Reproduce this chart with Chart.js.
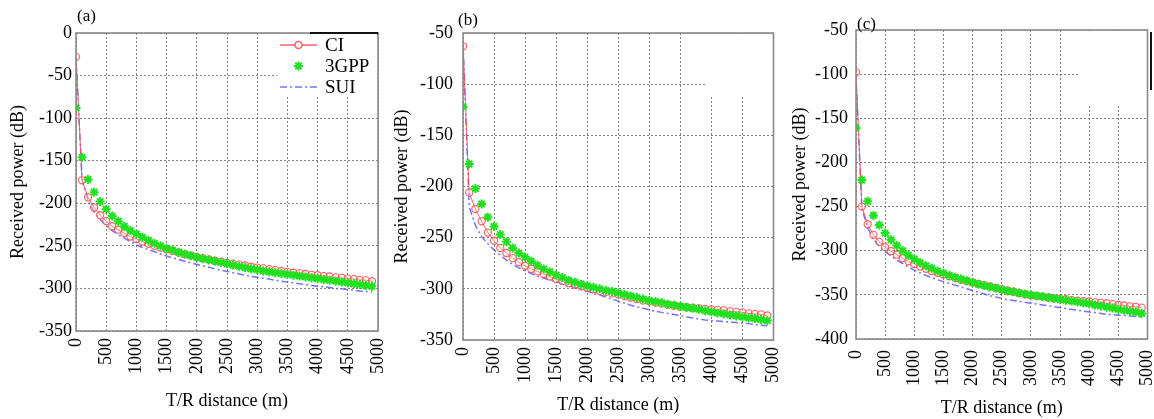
<!DOCTYPE html>
<html><head><meta charset="utf-8">
<script src="https://cdn.jsdelivr.net/npm/chart.js@4.4.1/dist/chart.umd.min.js"></script>
<style>
html,body{margin:0;padding:0;background:#fff;width:1154px;height:419px;overflow:hidden}
canvas{position:absolute;top:0}
</style></head><body>
<canvas id="ca" width="385" height="419" style="left:0px"></canvas>
<canvas id="cb" width="395" height="419" style="left:385px"></canvas>
<canvas id="cc" width="374" height="419" style="left:780px"></canvas>
<script>
// ---- data ----
const distance = [1,100,200,300,400,500,600,700,800,900,1000,1100,1200,1300,1400,1500,1600,1700,1800,1900,2000,
  2100,2200,2300,2400,2500,2600,2700,2800,2900,3000,3100,3200,3300,3400,3500,3600,3700,3800,3900,4000,
  4100,4200,4300,4400,4500,4600,4700,4800,4900];
const seriesNames = ['CI','3GPP','SUI'];
const panelLabels = ['(a)','(b)','(c)'];
const xTicks = [0,500,1000,1500,2000,2500,3000,3500,4000,4500,5000];
const yTicksA = [0,-50,-100,-150,-200,-250,-300,-350];
const yTicksB = [-50,-100,-150,-200,-250,-300,-350];
const yTicksC = [-50,-100,-150,-200,-250,-300,-350,-400];
const xTitle = 'T/R distance (m)';
const yTitle = 'Received power (dB)';

const ciA = [-28,-173,-193,-205,-214,-221,-227,-231,-235,-239,-242,
  -245,-247.5,-250,-252,-254,-256,-258,-260,-261.5,-263,
  -264.5,-266,-267.5,-268.5,-270,-271,-272,-273,-274.5,-275.5,
  -276.5,-277.5,-278.5,-279.5,-280.5,-281.5,-282,-283,-284,-284.5,
  -285.5,-286,-287,-287.5,-288.5,-289,-290,-290.5,-291.5];
const gppA = [-88,-146,-172,-187,-198,-207,-215,-221,-227,-232,-236,
  -240,-243.5,-247,-250,-253,-255,-257.5,-259.5,-261.5,-263.5,
  -265,-266.5,-268,-269.5,-271,-272.5,-274,-275.5,-277,-278,
  -279.5,-280.5,-281.5,-282.5,-283.5,-284.5,-285.5,-286.5,-287.5,-288.5,
  -289.5,-290.5,-291.5,-292.5,-293.5,-294.5,-295.5,-296.5,-297.5];
const suiA = [-30,-172,-197,-210,-219,-226,-232,-237,-241,-245,-249,
  -252,-254.5,-257,-259.5,-262,-264,-266,-268,-270,-272,
  -273.5,-275,-277,-278.5,-280,-281.5,-283,-284.5,-286,-287,
  -288,-289,-290.5,-291.5,-292.5,-293.5,-294.5,-295.5,-296.5,-297.5,
  -298,-299,-300,-300.5,-301.5,-302,-303,-303.5,-304];

const ciB = [-63,-206,-222,-234,-245,-253,-260,-265,-270,-274,-277.5,
  -280.5,-283,-285.5,-288,-290.5,-292.5,-294.5,-296,-297.5,-299,
  -300.5,-302,-303,-304.5,-305.5,-307,-308.5,-310,-311.5,-312.5,
  -313.5,-314.5,-315.5,-316.5,-317.5,-318,-318.5,-319,-319.5,-320,
  -320.5,-321,-322,-322.5,-323,-324,-324.5,-325,-326];
const gppB = [-122,-178,-202,-217,-230,-239,-247,-254,-260,-265,-269,
  -273,-277,-280.5,-283.5,-286.5,-289,-291.5,-293.5,-295.5,-297,
  -298.5,-300,-301.5,-302.5,-304,-305.5,-307,-308.5,-310,-311.5,
  -312.5,-313.5,-315,-316,-317,-318,-319,-320,-321.5,-322.5,
  -323.5,-324.5,-325.5,-326.5,-327.5,-328.5,-329,-330,-331];
const suiB = [-60,-220,-238,-249,-256,-262,-267,-272,-276,-279.5,-282.5,
  -285,-287.5,-289.5,-291.5,-293,-295,-297,-298.5,-300.5,-302.5,
  -304.5,-306,-308,-310,-312,-314,-316,-317.5,-319,-320.5,
  -322,-323,-324,-325,-326,-327.5,-328.5,-329.5,-330.5,-331,
  -331.5,-332,-332.5,-333,-333.5,-334,-335,-335.5,-336];

const ciC = [-98,-250,-270,-282,-290,-296,-300.5,-304.5,-308.5,-312,-315,
  -318,-320.5,-323,-325,-327,-329,-331,-333,-334.5,-336,
  -337.5,-339,-340.5,-342,-343.5,-345,-346.5,-348,-349.5,-350.5,
  -351.5,-352,-353,-354,-354.5,-355,-356,-356.5,-357,-357.5,
  -358.5,-359,-359.5,-360.5,-361.5,-362,-363,-363.5,-364.5];
const gppC = [-161,-220,-244,-260,-271,-280,-287.5,-294,-300,-305,-309.5,
  -313.5,-317,-320,-323,-325.5,-328,-330,-332,-334,-336,
  -338,-339.5,-341,-342.5,-344,-345.5,-346.5,-348,-349,-350,
  -351,-352,-353,-354,-355,-356,-357,-358,-359,-360,
  -361.5,-362.5,-364,-365,-366.5,-367.5,-368.5,-369.5,-371];
const suiC = [-105,-252,-274,-287,-295,-301,-306,-310.5,-314.5,-318.5,-322,
  -325,-328,-330.5,-333,-335,-337,-339,-341,-343,-345,
  -347,-349,-351,-352.5,-354,-355.5,-356.5,-357.5,-358.5,-359.5,
  -360.5,-361.5,-362.5,-363.5,-364.5,-365.5,-366.5,-367.5,-368.5,-369.5,
  -370,-371,-372,-372.5,-373,-373.5,-374,-374.5,-375];

// ---- styles ----
const FONT = "'Liberation Serif', 'Times New Roman', serif";
Chart.defaults.font.family = FONT;
const RED = 'rgba(255,70,70,0.85)';
const GREEN = '#20e020';
const BLUE = 'rgba(80,80,255,0.8)';
const GRID = 'rgba(85,85,85,0.75)';

function pts(ys){ return distance.map((d,i)=>({x:d,y:ys[i]})); }

function drawStar(ctx,x,y,r){
  ctx.save(); ctx.strokeStyle=GREEN; ctx.lineWidth=2; ctx.setLineDash([]); ctx.beginPath();
  for(let k=0;k<4;k++){const a=k*Math.PI/4; ctx.moveTo(x-r*Math.cos(a),y-r*Math.sin(a)); ctx.lineTo(x+r*Math.cos(a),y+r*Math.sin(a));}
  ctx.stroke(); ctx.restore();
}

function makePanel(id, ci, gpp, sui, yTicks, g){
  const decor = {
    id:'decor'+id,
    beforeDatasetsDraw(chart){
      const ctx=chart.ctx;
      (g.masks||[]).forEach(m=>{ctx.save();ctx.fillStyle='#fff';ctx.fillRect(m[0],m[1],m[2],m[3]);ctx.restore();});
    },
    afterDatasetsDraw(chart){
      const ctx=chart.ctx, a=chart.chartArea;
      ctx.save();
      ctx.strokeStyle='#8a8a8a'; ctx.lineWidth=1.6;
      ctx.strokeRect(a.left,a.top,a.right-a.left,a.bottom-a.top);
      (g.marks||[]).forEach(m=>{ctx.fillStyle='#111';ctx.fillRect(m[0],m[1],m[2],m[3]);});
      ctx.fillStyle='#000'; ctx.font='17px '+FONT; ctx.textBaseline='middle'; ctx.textAlign='left';
      ctx.fillText(g.label, a.left+g.labelDx, a.top+g.labelDy);
      if(g.legend){
        const L=g.legend;
        ctx.fillStyle='#fff'; ctx.fillRect(L.x,L.y,L.w,L.h);
        ctx.font='19px '+FONT;
        seriesNames.forEach((name,i)=>{
          const cy=L.y+L.row0+i*L.rowH, x0=L.x+L.lx, x1=x0+L.len, cx=(x0+x1)/2;
          if(i===0){
            ctx.strokeStyle=RED; ctx.lineWidth=1.5; ctx.setLineDash([]);
            ctx.beginPath(); ctx.moveTo(x0,cy); ctx.lineTo(x1,cy); ctx.stroke();
            ctx.beginPath(); ctx.arc(cx,cy,3.5,0,Math.PI*2); ctx.fillStyle='#fff'; ctx.fill(); ctx.stroke();
          } else if(i===1){
            drawStar(ctx,cx,cy,4.5);
          } else {
            ctx.strokeStyle=BLUE; ctx.lineWidth=1.5; ctx.setLineDash([7,3,2,3]);
            ctx.beginPath(); ctx.moveTo(x0,cy); ctx.lineTo(x1,cy); ctx.stroke(); ctx.setLineDash([]);
          }
          ctx.fillStyle='#000'; ctx.fillText(name, x1+L.gap, cy+1);
        });
      }
      ctx.restore();
    }
  };
  const tickFont = {family:FONT, size:g.fs};
  return new Chart(document.getElementById(id), {
    type:'line',
    data:{datasets:[
      {label:seriesNames[1], data:pts(gpp), order:0, showLine:false, pointStyle:'star', pointRadius:4.5, pointBorderWidth:2,
        borderColor:GREEN, backgroundColor:GREEN},
      {label:seriesNames[0], data:pts(ci), order:1, borderColor:RED, borderWidth:1, pointStyle:'circle', pointRadius:3.6,
        pointBorderWidth:1.1, pointBorderColor:RED, pointBackgroundColor:'rgba(255,220,220,0.35)', tension:0},
      {label:seriesNames[2], data:pts(sui), order:2, borderColor:BLUE, borderWidth:1.5, borderDash:[7,3,2,3], pointRadius:0, tension:0}
    ]},
    options:{
      responsive:false, animation:false, devicePixelRatio:1,
      layout:{padding:g.pad},
      plugins:{legend:{display:false}, tooltip:{enabled:false}},
      scales:{
        x:{type:'linear', min:0, max:5000,
          afterBuildTicks:s=>{s.ticks=xTicks.map(v=>({value:v}));},
          afterFit:s=>{s.height=g.xh; s.paddingLeft=0; s.paddingRight=0;},
          ticks:{minRotation:90,maxRotation:90,autoSkip:false,padding:g.xtp,color:'#000',font:tickFont,
            callback:v=>String(v)},
          grid:{color:GRID,lineWidth:1,drawTicks:false},
          border:{display:false,dash:[2,2]},
          title:{display:true,text:xTitle,color:'#000',font:tickFont,padding:0}
        },
        y:{type:'linear', min:yTicks[yTicks.length-1], max:yTicks[0],
          afterBuildTicks:s=>{s.ticks=yTicks.map(v=>({value:v}));},
          afterFit:s=>{s.width=g.yw; s.paddingTop=0; s.paddingBottom=0;},
          ticks:{padding:g.ytp,color:'#000',font:tickFont,callback:v=>String(v)},
          grid:{color:GRID,lineWidth:1,drawTicks:false},
          border:{display:false,dash:[2,2]},
          title:{display:true,text:yTitle,color:'#000',font:tickFont,padding:0}
        }
      }
    },
    plugins:[decor]
  });
}

makePanel('ca', ciA, gppA, suiA, yTicksA, {
  fs:18, pad:{left:7,top:33,right:7,bottom:7}, yw:69, xh:81, xtp:7, ytp:4,
  label:panelLabels[0], labelDx:1, labelDy:-16,
  legend:{x:277,y:34,w:100,h:62,row0:11,rowH:21,lx:3,len:37,gap:8},
  marks:[[310,32,68,2.5]]
});
makePanel('cb', ciB, gppB, suiB, yTicksB, {
  fs:18, pad:{left:6,top:33,right:2,bottom:3}, yw:72, xh:76, xtp:7, ytp:10,
  label:panelLabels[1], labelDx:-5, labelDy:-12,
  masks:[[320,34,73,61]]
});
makePanel('cc', ciC, gppC, suiC, yTicksC, {
  fs:18, pad:{left:9,top:30,right:1,bottom:0}, yw:67, xh:80, xtp:11, ytp:8,
  label:panelLabels[2], labelDx:1, labelDy:-5,
  masks:[[300,31,72,74]],
  marks:[[370,32,2,58]]
});
</script>
</body></html>
